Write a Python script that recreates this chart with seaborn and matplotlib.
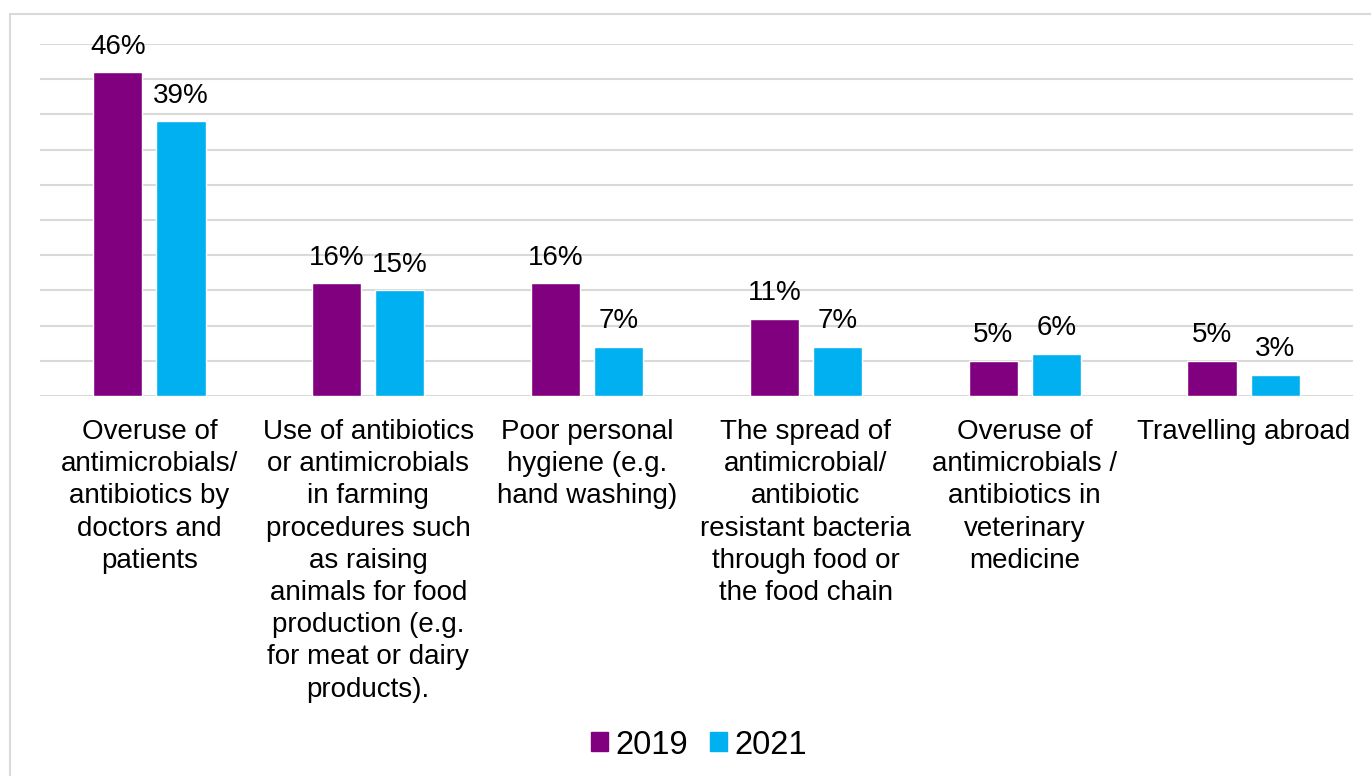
import numpy as np
import pandas as pd
import matplotlib.pyplot as plt
import seaborn as sns
from matplotlib.patches import Rectangle

# 데이터
categories = [
    'Overuse of\nantimicrobials/\nantibiotics by\ndoctors and\npatients',
    'Use of antibiotics\nor antimicrobials\nin farming\nprocedures such\nas raising\nanimals for food\nproduction (e.g.\nfor meat or dairy\nproducts).',
    'Poor personal\nhygiene (e.g.\nhand washing)',
    'The spread of\nantimicrobial/\nantibiotic\nresistant bacteria\nthrough food or\nthe food chain',
    'Overuse of\nantimicrobials /\nantibiotics in\nveterinary\nmedicine',
    'Travelling abroad',
]
years = ['2019', '2021']
values_2019 = [46, 16, 16, 11, 5, 5]
values_2021 = [39, 15, 7, 7, 6, 3]
colors = ['#800080', '#00B0F0']

df = pd.DataFrame({
    'category': categories * 2,
    'year': [years[0]] * len(categories) + [years[1]] * len(categories),
    'value': values_2019 + values_2021,
})

sns.set_style('white')
plt.rcParams['font.family'] = ['Liberation Sans', 'DejaVu Sans']
plt.rcParams['text.color'] = 'black'
plt.rcParams['xtick.color'] = 'black'

fs = 20

fig = plt.figure(figsize=(13.71, 7.76), dpi=100)
ax = fig.add_axes([40 / 1371, 1 - 396 / 776, (1353 - 40) / 1371, (396 - 44) / 776])

sns.barplot(data=df, x='category', y='value', hue='year', palette=colors,
            width=0.576, gap=0.22, saturation=1, ax=ax, legend=False)

for cont in ax.containers:
    ax.bar_label(cont, fmt='%d%%', padding=9, fontsize=fs, color='black')

ax.set_ylim(0, 50)
ax.set_xlim(-0.5, len(categories) - 0.5)
ax.set_yticks(np.arange(0, 51, 5))
ax.set_yticklabels([])
ax.yaxis.grid(True, color='#D9D9D9', lw=1.5)
ax.set_axisbelow(True)
for s in ax.spines.values():
    s.set_visible(False)
ax.tick_params(axis='both', length=0)
ax.tick_params(axis='x', pad=16.5)
for lab in ax.get_xticklabels():
    lab.set_fontsize(fs)
    lab.set_linespacing(1.31)
    lab.set_verticalalignment('top')
    lab.set_color('black')
ax.set_xlabel('')
ax.set_ylabel('')

# 범례
handles = [Rectangle((0, 0), 1, 1, color=c) for c in colors]
fig.legend(handles, years, loc='center', bbox_to_anchor=(699 / 1371, 1 - 745 / 776),
           ncol=2, frameon=False, fontsize=23.5, handlelength=0.52, handleheight=0.52,
           handletextpad=0.22, columnspacing=0.68)

# 테두리
fig.patches.append(Rectangle((10 / 1371, -0.1), 2, 1 - 14 / 776 + 0.1,
                             transform=fig.transFigure, fill=False,
                             edgecolor='#D9D9D9', lw=1.5))

fig.savefig('out.png', dpi=100)
